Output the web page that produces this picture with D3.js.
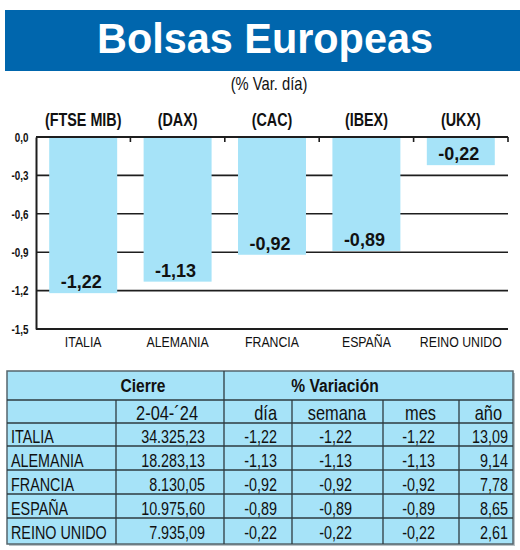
<!DOCTYPE html>
<html>
<head>
<meta charset="utf-8">
<script src="https://cdn.jsdelivr.net/npm/d3@7"></script>
<style>
  body { margin: 0; background: #fff; }
  svg { display: block; }
  text { font-family: "Liberation Sans", Arial, sans-serif; fill: #111; }
</style>
</head>
<body>
<svg id="chart" width="520" height="550"></svg>
<script>
// Data
var countries = ["ITALIA", "ALEMANIA", "FRANCIA", "ESPAÑA", "REINO UNIDO"];
var indices = ["(FTSE MIB)", "(DAX)", "(CAC)", "(IBEX)", "(UKX)"];
var dayChange = [-1.22, -1.13, -0.92, -0.89, -0.22];
var weekChange = [-1.22, -1.13, -0.92, -0.89, -0.22];
var monthChange = [-1.22, -1.13, -0.92, -0.89, -0.22];
var yearChange = [13.09, 9.14, 7.78, 8.65, 2.61];
var closes = [34325.23, 18283.13, 8130.05, 10975.60, 7935.09];
var yTicks = [0, -0.3, -0.6, -0.9, -1.2, -1.5];
var columnHeaders = ["2-04-´24", "día", "semana", "mes", "año"];

var barColor = "#a6e3f8";
var lineColor = "#1e1e1e";
var squeeze = 0.82;   // no narrow font installed, so squeeze Liberation Sans

var es = d3.formatLocale({ decimal: ",", thousands: ".", grouping: [3], currency: ["", "€"], minus: "-" });
var f1 = es.format(".1f"), f2 = es.format(".2f"), fClose = es.format(",.2f");

function at(px, py) {
    return "translate(" + px + "," + py + ") scale(" + squeeze + ",1)";
}

var svg = d3.select("#chart");

// Title band
svg.append("rect")
    .attr("x", 5).attr("y", 10)
    .attr("width", 515).attr("height", 61)
    .attr("fill", "#0066ad");
svg.append("text")
    .attr("x", 265).attr("y", 53)
    .attr("text-anchor", "middle")
    .attr("font-family", "Open Sans, sans-serif")
    .attr("font-weight", "bold")
    .attr("font-size", 42)
    .attr("textLength", 336)
    .attr("lengthAdjust", "spacingAndGlyphs")
    .style("fill", "#fff")
    .text("Bolsas Europeas");
svg.append("text")
    .attr("transform", at(269, 90))
    .attr("text-anchor", "middle")
    .attr("font-size", 18)
    .text("(% Var. día)");

// Bar chart
var x = d3.scaleBand()
    .domain(countries)
    .range([36, 508])
    .paddingInner(0.28)
    .paddingOuter(0.14);

var y = d3.scaleLinear()
    .domain([0, -1.5])
    .range([137, 329]);

var left = x.range()[0], right = x.range()[1];

// inner gridlines (behind bars)
svg.append("g")
    .selectAll("line")
    .data(yTicks.slice(1, -1))
    .enter()
    .append("line")
    .attr("x1", left).attr("x2", right)
    .attr("y1", d => y(d)).attr("y2", d => y(d))
    .attr("stroke", lineColor)
    .attr("stroke-width", 1.6);

svg.append("g")
    .selectAll("rect")
    .data(dayChange)
    .enter()
    .append("rect")
    .attr("x", (d, i) => x(countries[i]))
    .attr("y", y(0))
    .attr("width", x.bandwidth())
    .attr("height", d => y(d) - y(0))
    .attr("fill", barColor);

// top and bottom frame lines
svg.append("line")
    .attr("x1", left).attr("x2", right)
    .attr("y1", y(0)).attr("y2", y(0))
    .attr("stroke", lineColor).attr("stroke-width", 2);
svg.append("line")
    .attr("x1", left).attr("x2", right)
    .attr("y1", y(-1.5)).attr("y2", y(-1.5))
    .attr("stroke", lineColor).attr("stroke-width", 2);

// category boundary ticks on top line
svg.append("g")
    .selectAll("line")
    .data(countries)
    .enter()
    .append("line")
    .attr("x1", d => x(d) + x.bandwidth() + (x.step() - x.bandwidth()) / 2)
    .attr("x2", d => x(d) + x.bandwidth() + (x.step() - x.bandwidth()) / 2)
    .attr("y1", y(0)).attr("y2", y(0) + 5)
    .attr("stroke", lineColor).attr("stroke-width", 1.6);

// y axis
var yAxis = svg.append("g")
    .attr("transform", "translate(" + left + ",0)")
    .call(d3.axisLeft(y).tickValues(yTicks).tickSize(0).tickPadding(8).tickFormat(f1));
yAxis.select(".domain").attr("stroke", lineColor).attr("stroke-width", 2);
yAxis.selectAll(".tick text")
    .attr("font-family", null)
    .attr("font-weight", "bold")
    .attr("font-size", 12)
    .attr("dy", "0.35em")
    .attr("transform", "translate(-1,0) scale(" + squeeze + ",1)");

// value labels
svg.append("g")
    .selectAll("text")
    .data(dayChange)
    .enter()
    .append("text")
    .attr("x", (d, i) => x(countries[i]) + x.bandwidth() / 2 - 2)
    .attr("y", d => y(d) - 5)
    .attr("text-anchor", "middle")
    .attr("font-weight", "bold")
    .attr("font-size", 18)
    .text(d => f2(d));

// index names above
svg.append("g")
    .selectAll("text")
    .data(indices)
    .enter()
    .append("text")
    .attr("transform", (d, i) => at(x(countries[i]) + x.bandwidth() / 2, 126))
    .attr("text-anchor", "middle")
    .attr("font-weight", "bold")
    .attr("font-size", 17.5)
    .text(d => d);

// country names below
svg.append("g")
    .selectAll("text")
    .data(countries)
    .enter()
    .append("text")
    .attr("transform", d => at(x(d) + x.bandwidth() / 2, 347))
    .attr("text-anchor", "middle")
    .attr("font-size", 15)
    .text(d => d);

// Table
var tLeft = 7, tRight = 513, tTop = 371, tBottom = 544;
var colEdges = [tLeft, 116, 224, 292, 383, 459, tRight];
var rows = d3.scaleBand().domain(countries).range([422, 542]);
var tableLine = "#2d3b40";

svg.append("rect")
    .attr("x", tLeft + 2).attr("y", tTop + 2)
    .attr("width", tRight - tLeft).attr("height", tBottom - tTop)
    .attr("fill", "#b9c2c6");
svg.append("rect")
    .attr("x", tLeft).attr("y", tTop)
    .attr("width", tRight - tLeft).attr("height", tBottom - tTop)
    .attr("fill", barColor)
    .attr("stroke", "#55666c").attr("stroke-width", 1.5);

var tg = svg.append("g");

// horizontal lines: header separators and row underlines
var hLines = [400, 423].concat(countries.slice(0, -1).map(d => rows(d) + rows.bandwidth()));
tg.selectAll("line.h")
    .data(hLines)
    .enter()
    .append("line")
    .attr("class", "h")
    .attr("x1", tLeft).attr("x2", tRight)
    .attr("y1", d => d).attr("y2", d => d)
    .attr("stroke", tableLine).attr("stroke-width", 1.3);

// vertical lines
tg.selectAll("line.v")
    .data(colEdges.slice(1, -1))
    .enter()
    .append("line")
    .attr("class", "v")
    .attr("x1", d => d).attr("x2", d => d)
    .attr("y1", d => d === 224 ? tTop : 400)
    .attr("y2", tBottom)
    .attr("stroke", tableLine).attr("stroke-width", 1.3);

// header row 1
tg.append("text")
    .attr("transform", at(143, 392))
    .attr("text-anchor", "middle")
    .attr("font-weight", "bold").attr("font-size", 19)
    .text("Cierre");
tg.append("text")
    .attr("transform", at(335, 392))
    .attr("text-anchor", "middle")
    .attr("font-weight", "bold").attr("font-size", 19)
    .text("% Variación");

// header row 2 and data columns: right edges of text
var headerRight = [198, 277, 366, 436, 502];
var cellRight = [205, 277, 352, 435, 508];

tg.selectAll("text.hdr")
    .data(columnHeaders)
    .enter()
    .append("text")
    .attr("class", "hdr")
    .attr("transform", (d, i) => at(headerRight[i], 420))
    .attr("text-anchor", "end")
    .attr("font-size", 20)
    .text(d => d);

var columns = [closes.map(fClose), dayChange.map(f2), weekChange.map(f2), monthChange.map(f2), yearChange.map(f2)];

countries.forEach(function (c, r) {
    var base = rows(c) + rows.bandwidth() - 3;
    tg.append("text")
        .attr("transform", at(11, base))
        .attr("font-size", 17.5)
        .text(c);
    columns.forEach(function (col, k) {
        tg.append("text")
            .attr("transform", at(cellRight[k], base))
            .attr("text-anchor", "end")
            .attr("font-size", 17.5)
            .text(col[r]);
    });
});
</script>
</body>
</html>
